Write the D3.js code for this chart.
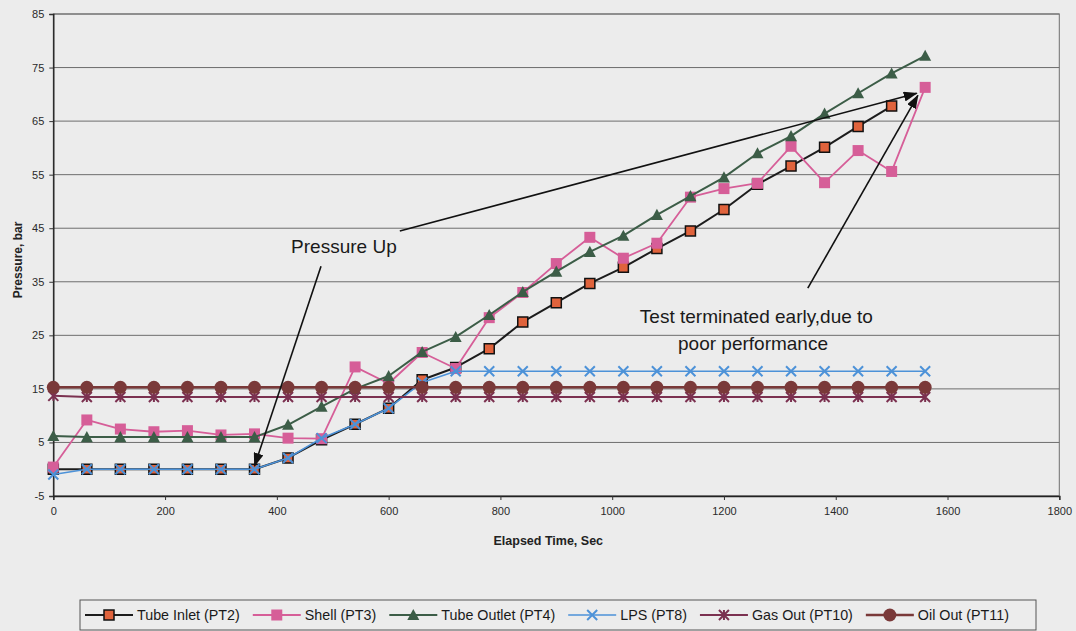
<!DOCTYPE html>
<html>
<head>
<meta charset="utf-8">
<script src="https://cdn.jsdelivr.net/npm/d3@7"></script>
<style>
  html, body { margin: 0; padding: 0; background: #ececec; }
  svg { display: block; font-family: "Liberation Sans", Arial, sans-serif; }
</style>
</head>
<body>
<svg id="chart" width="1076" height="631"></svg>
<script>
// Elapsed time of each reading, seconds
const times = [0, 60, 120, 180, 240, 300, 360, 420, 480, 540, 600, 660, 720, 780,
  840, 900, 960, 1020, 1080, 1140, 1200, 1260, 1320, 1380, 1440, 1500, 1560];

// Pressure readings, bar
const tubeInlet = [0, 0, 0, 0, 0, 0, 0, 2.1, 5.5, 8.4, 11.4, 16.7, 19.0, 22.5, 27.5,
  31.1, 34.7, 37.7, 41.2, 44.5, 48.5, 53.2, 56.6, 60.1, 64.0, 67.8];
const shell = [0.4, 9.2, 7.5, 7.0, 7.2, 6.4, 6.6, 5.8, 5.7, 19.1, 16.0, 21.8, 18.8,
  28.3, 33.0, 38.4, 43.3, 39.4, 42.2, 50.8, 52.4, 53.4, 60.3, 53.5, 59.5, 55.6, 71.3];
const tubeOutlet = [6.2, 6.0, 6.0, 6.0, 6.0, 6.0, 6.0, 8.3, 11.7, 15.0, 17.4, 21.9,
  24.7, 28.8, 33.1, 36.9, 40.6, 43.6, 47.5, 51.0, 54.5, 59.0, 62.2, 66.4, 70.2, 73.9, 77.2];
const lps = [-1.0, 0, 0, 0, 0, 0, 0, 2.1, 5.8, 8.4, 11.4, 16.2, 18.3, 18.3, 18.3, 18.3,
  18.3, 18.3, 18.3, 18.3, 18.3, 18.3, 18.3, 18.3, 18.3, 18.3, 18.3];
const gasOut = [13.7, 13.5, 13.5, 13.5, 13.5, 13.5, 13.5, 13.5, 13.5, 13.5, 13.5, 13.5,
  13.5, 13.5, 13.5, 13.5, 13.5, 13.5, 13.5, 13.5, 13.5, 13.5, 13.5, 13.5, 13.5, 13.5, 13.5];
const oilOut = [15.3, 15.3, 15.3, 15.3, 15.3, 15.3, 15.3, 15.3, 15.3, 15.3, 15.3, 15.3,
  15.3, 15.3, 15.3, 15.3, 15.3, 15.3, 15.3, 15.3, 15.3, 15.3, 15.3, 15.3, 15.3, 15.3, 15.3];

const seriesNames = ["Tube Inlet (PT2)", "Shell (PT3)", "Tube Outlet (PT4)",
  "LPS (PT8)", "Gas Out (PT10)", "Oil Out (PT11)"];

// Axis ticks
const xTicks = [0, 200, 400, 600, 800, 1000, 1200, 1400, 1600, 1800];
const yTicks = [-5, 5, 15, 25, 35, 45, 55, 65, 75, 85];

// Series styling
const styles = [
  { values: tubeInlet, line: "#1c1c1c", width: 2, marker: "square", fill: "#e0633c", stroke: "#111", size: 10 },
  { values: shell, line: "#d65e98", width: 1.8, marker: "square", fill: "#d65e98", stroke: "none", size: 11 },
  { values: tubeOutlet, line: "#3c5d47", width: 2, marker: "triangle", fill: "#3c5d47", stroke: "none", size: 12 },
  { values: lps, line: "#4d92d8", width: 1.6, marker: "x", fill: "none", stroke: "#4d92d8", size: 10 },
  { values: gasOut, line: "#7b3150", width: 2, marker: "star", fill: "none", stroke: "#7b3150", size: 10 },
  { values: oilOut, line: "#7a3939", width: 2.6, marker: "circle", fill: "#7a3939", stroke: "none", size: 13 }
];

const svg = d3.select("#chart");
const W = 1076, H = 631;
const plot = { left: 53.3, right: 1059.3, top: 14, bottom: 496 };

const x = d3.scaleLinear().domain([0, 1800]).range([plot.left, plot.right]);
const y = d3.scaleLinear().domain([-5, 85]).range([plot.bottom, plot.top]);

svg.append("rect").attr("width", W).attr("height", H).attr("fill", "#ececec");

// Horizontal gridlines
svg.append("g")
  .selectAll("line")
  .data(yTicks)
  .join("line")
  .attr("x1", plot.left).attr("x2", plot.right)
  .attr("y1", d => y(d)).attr("y2", d => y(d))
  .attr("stroke", "#6e6e6e").attr("stroke-width", 1);

// Plot frame
svg.append("rect")
  .attr("x", plot.left).attr("y", plot.top)
  .attr("width", plot.right - plot.left).attr("height", plot.bottom - plot.top)
  .attr("fill", "none").attr("stroke", "#707070").attr("stroke-width", 1);

// Axes
const fmt = d => String(d);
const xAxis = svg.append("g")
  .attr("transform", `translate(0,${plot.bottom})`)
  .call(d3.axisBottom(x).tickValues(xTicks).tickSize(4).tickPadding(7).tickFormat(fmt));
const yAxis = svg.append("g")
  .attr("transform", `translate(${plot.left},0)`)
  .call(d3.axisLeft(y).tickValues(yTicks).tickSize(4).tickPadding(5).tickFormat(fmt));
[xAxis, yAxis].forEach(a => {
  a.select(".domain").attr("stroke", "#222").attr("stroke-width", 1.4);
  a.selectAll(".tick line").attr("stroke", "#333");
  a.selectAll(".tick text").attr("fill", "#2a2a2a").style("font-size", "11px")
    .style("font-family", "'Liberation Sans', Arial, sans-serif");
});

// Axis titles
svg.append("text")
  .attr("x", (plot.left + plot.right) / 2 - 8).attr("y", 545)
  .attr("text-anchor", "middle").attr("fill", "#222")
  .style("font-size", "12.5px").style("font-weight", "bold")
  .text("Elapsed Time, Sec");
svg.append("text")
  .attr("transform", `translate(22,${(plot.top + plot.bottom) / 2 + 5}) rotate(-90)`)
  .attr("text-anchor", "middle").attr("fill", "#222")
  .style("font-size", "12px").style("font-weight", "bold")
  .text("Pressure, bar");

// Marker shapes
function markerPath(type, s) {
  const h = s / 2;
  switch (type) {
    case "square": return `M${-h},${-h}H${h}V${h}H${-h}Z`;
    case "triangle": return `M0,${-h}L${h},${h * 0.85}L${-h},${h * 0.85}Z`;
    case "x": return `M${-h},${-h}L${h},${h}M${h},${-h}L${-h},${h}`;
    case "star": return `M${-h},${-h}L${h},${h}M${h},${-h}L${-h},${h}M0,${-h}V${h}`;
    case "circle": return d3.arc()({ innerRadius: 0, outerRadius: h, startAngle: 0, endAngle: 2 * Math.PI });
  }
}

const line = d3.line().x(d => x(d[0])).y(d => y(d[1]));
const seriesG = svg.append("g");

styles.forEach(s => {
  const pts = s.values.map((v, i) => [times[i], v]);
  const g = seriesG.append("g");
  g.append("path").attr("d", line(pts))
    .attr("fill", "none").attr("stroke", s.line).attr("stroke-width", s.width)
    .attr("stroke-linejoin", "round");
  g.selectAll("path.mk")
    .data(pts)
    .join("path")
    .attr("class", "mk")
    .attr("transform", d => `translate(${x(d[0])},${y(d[1])})`)
    .attr("d", markerPath(s.marker, s.size))
    .attr("fill", s.fill)
    .attr("stroke", s.stroke)
    .attr("stroke-width", s.marker === "x" || s.marker === "star" ? 2 : 1.5);
});

// Annotations
const defs = svg.append("defs");
defs.append("marker")
  .attr("id", "head")
  .attr("viewBox", "0 0 14 10")
  .attr("refX", 13).attr("refY", 5)
  .attr("markerWidth", 14).attr("markerHeight", 10)
  .attr("markerUnits", "userSpaceOnUse")
  .attr("orient", "auto")
  .append("path").attr("d", "M0,0L14,5L0,10Z").attr("fill", "#111");

const arrows = [
  { from: [479, 37.9], to: [360, 0.6] },
  { from: [620, 44.5], to: [1545, 70.2] },
  { from: [1350, 33.8], to: [1547, 69.8] }
];
svg.append("g")
  .selectAll("line")
  .data(arrows)
  .join("line")
  .attr("x1", d => x(d.from[0])).attr("y1", d => y(d.from[1]))
  .attr("x2", d => x(d.to[0])).attr("y2", d => y(d.to[1]))
  .attr("stroke", "#111").attr("stroke-width", 1.6)
  .attr("marker-end", "url(#head)");

const notes = [
  { t: 520, v: 40.3, text: "Pressure Up" },
  { t: 1258, v: 27.3, text: "Test terminated early,due to" },
  { t: 1252, v: 22.3, text: "poor performance" }
];
svg.append("g")
  .selectAll("text")
  .data(notes)
  .join("text")
  .attr("x", d => x(d.t)).attr("y", d => y(d.v))
  .attr("text-anchor", "middle").attr("fill", "#1a1a1a")
  .style("font-size", "19px")
  .text(d => d.text);

// Legend
const legend = svg.append("g");
legend.append("rect")
  .attr("x", 80).attr("y", 600).attr("width", 956).attr("height", 30)
  .attr("fill", "#ececec").attr("stroke", "#555").attr("stroke-width", 1);
let cx = 85;
seriesNames.forEach((name, i) => {
  const s = styles[i];
  const ly = 615;
  legend.append("line")
    .attr("x1", cx).attr("x2", cx + 48).attr("y1", ly).attr("y2", ly)
    .attr("stroke", s.line).attr("stroke-width", s.width);
  legend.append("path")
    .attr("transform", `translate(${cx + 24},${ly})`)
    .attr("d", markerPath(s.marker, s.size))
    .attr("fill", s.fill).attr("stroke", s.stroke)
    .attr("stroke-width", s.marker === "x" || s.marker === "star" ? 2 : 1.5);
  const t = legend.append("text")
    .attr("x", cx + 52).attr("y", ly + 5)
    .attr("fill", "#1a1a1a").style("font-size", "14.3px")
    .text(name);
  cx += 52 + t.node().getComputedTextLength() + 13;
});
</script>
</body>
</html>
